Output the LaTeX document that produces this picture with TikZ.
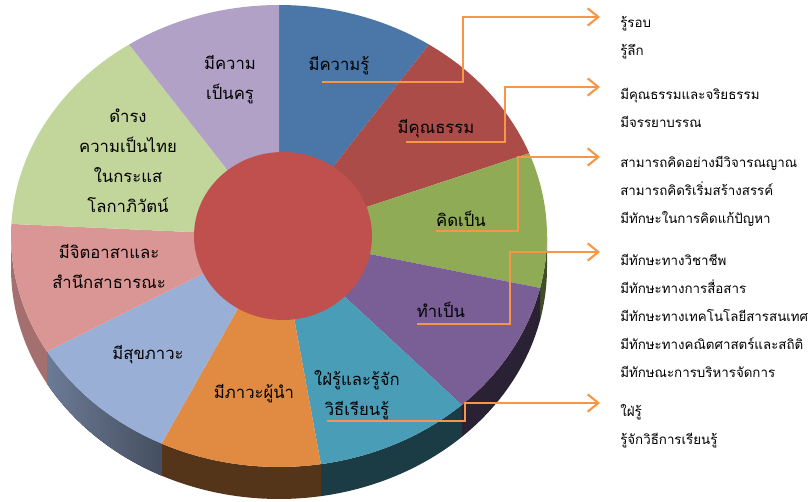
\documentclass[tikz,border=0pt]{standalone}
\usepackage{fontspec}
\newfontfamily\thaifont[Script=Thai]{Loma}
\usetikzlibrary{arrows.meta,shapes.geometric}

\definecolor{pblue}{HTML}{4A76A8}
\definecolor{pred}{HTML}{AB4C49}
\definecolor{pgreen}{HTML}{8FAB55}
\definecolor{ppurple}{HTML}{7A5F96}
\definecolor{pteal}{HTML}{4A9DB6}
\definecolor{porange}{HTML}{E08A42}
\definecolor{plblue}{HTML}{9AAFD6}
\definecolor{ppink}{HTML}{D99694}
\definecolor{plgreen}{HTML}{C2D59B}
\definecolor{plpurple}{HTML}{B1A1C7}
\definecolor{hubred}{HTML}{C0504D}
\definecolor{linkorange}{HTML}{F79646}

\tikzstyle{lbl} = [font=\thaifont\fontsize{12.5}{22.5}\selectfont, align=center, inner sep=0pt]
\tikzstyle{listtxt} = [font=\thaifont\fontsize{10}{21}\selectfont, align=left, anchor=west, inner sep=0pt]
\tikzstyle{conn} = [draw=linkorange, line width=2pt, -{Straight Barb[length=8pt,width=13pt,line width=1.6pt]}]

\begin{document}
\begin{tikzpicture}[x=0.75pt,y=-0.75pt]
\useasboundingbox (0,0) rectangle (811,502);
\begin{scope}[shift={(279,236)},yscale=-1]
	\fill[black!55!pgreen] plot[domain=-13:0,samples=20] ({268*cos(\x)},{231*sin(\x)})
		-- plot[domain=0:-13,samples=20] ({268*cos(\x)},{231*sin(\x)-32}) -- cycle;
	\fill[black!65!ppurple] plot[domain=-47:-13,samples=30] ({268*cos(\x)},{231*sin(\x)})
		-- plot[domain=-13:-47,samples=30] ({268*cos(\x)},{231*sin(\x)-32}) -- cycle;
	\fill[black!62!pteal] plot[domain=-81:-47,samples=30] ({268*cos(\x)},{231*sin(\x)})
		-- plot[domain=-47:-81,samples=30] ({268*cos(\x)},{231*sin(\x)-32}) -- cycle;
	\fill[black!62!porange] plot[domain=-116:-81,samples=30] ({268*cos(\x)},{231*sin(\x)})
		-- plot[domain=-81:-116,samples=30] ({268*cos(\x)},{231*sin(\x)-32}) -- cycle;
	\fill[left color=black!30!plblue,right color=black!55!plblue] plot[domain=-150:-116,samples=30] ({268*cos(\x)},{231*sin(\x)})
		-- plot[domain=-116:-150,samples=30] ({268*cos(\x)},{231*sin(\x)-32}) -- cycle;
	\fill[black!25!ppink] plot[domain=-180:-150,samples=30] ({268*cos(\x)},{231*sin(\x)})
		-- plot[domain=-150:-180,samples=30] ({268*cos(\x)},{231*sin(\x)-32}) -- cycle;
	% top of the pie
	\fill[pblue] (0,0) -- plot[domain=56:90,samples=30] ({268*cos(\x)},{231*sin(\x)}) -- cycle;
	\fill[pred] (0,0) -- plot[domain=21:56,samples=30] ({268*cos(\x)},{231*sin(\x)}) -- cycle;
	\fill[pgreen] (0,0) -- plot[domain=-13:21,samples=30] ({268*cos(\x)},{231*sin(\x)}) -- cycle;
	\fill[ppurple] (0,0) -- plot[domain=-47:-13,samples=30] ({268*cos(\x)},{231*sin(\x)}) -- cycle;
	\fill[pteal] (0,0) -- plot[domain=-81:-47,samples=30] ({268*cos(\x)},{231*sin(\x)}) -- cycle;
	\fill[porange] (0,0) -- plot[domain=-116:-81,samples=30] ({268*cos(\x)},{231*sin(\x)}) -- cycle;
	\fill[plblue] (0,0) -- plot[domain=-150:-116,samples=30] ({268*cos(\x)},{231*sin(\x)}) -- cycle;
	\fill[ppink] (0,0) -- plot[domain=-183:-150,samples=30] ({268*cos(\x)},{231*sin(\x)}) -- cycle;
	\fill[plgreen] (0,0) -- plot[domain=124:177,samples=40] ({268*cos(\x)},{231*sin(\x)}) -- cycle;
	\fill[plpurple] (0,0) -- plot[domain=90:124,samples=30] ({268*cos(\x)},{231*sin(\x)}) -- cycle;
\end{scope}
\node[ellipse,fill=hubred,minimum width=133.5pt,minimum height=126pt,inner sep=0pt] (hub) at (283,236) {};

\node[lbl] (know) at (339,66) {มีความรู้};
\node[lbl] (moral) at (436,129) {มีคุณธรรม};
\node[lbl] (think) at (461,219) {คิดเป็น};
\node[lbl] (doit) at (441,310) {ทำเป็น};
\node[lbl] (learn) at (357,395) {ใฝ่รู้และรู้จัก\\วิธีเรียนรู้};
\node[lbl] (lead) at (254,394) {มีภาวะผู้นำ};
\node[lbl] (health) at (148,355) {มีสุขภาวะ};
\node[lbl] (volunteer) at (109,266) {มีจิตอาสาและ\\สำนึกสาธารณะ};
\node[lbl] (thai) at (128,161) {ดำรง\\ความเป็นไทย\\ในกระแส\\โลกาภิวัตน์};
\node[lbl] (teacher) at (230,80) {มีความ\\เป็นครู};

\node[listtxt] (list1) at (620,38) {รู้รอบ\\รู้ลึก};
\node[listtxt] (list2) at (620,108) {มีคุณธรรมและจริยธรรม\\มีจรรยาบรรณ};
\node[listtxt] (list3) at (620,191) {สามารถคิดอย่างมีวิจารณญาณ\\สามารถคิดริเริ่มสร้างสรรค์\\มีทักษะในการคิดแก้ปัญหา};
\node[listtxt] (list4) at (620,316) {มีทักษะทางวิชาชีพ\\มีทักษะทางการสื่อสาร\\มีทักษะทางเทคโนโลยีสารสนเทศ\\มีทักษะทางคณิตศาสตร์และสถิติ\\มีทักษณะการบริหารจัดการ};
\node[listtxt] (list5) at (620,426) {ใฝ่รู้\\รู้จักวิธีการเรียนรู้};

\coordinate (s1) at (322,82);
\coordinate (s2) at (406,142);
\coordinate (s3) at (436,231);
\coordinate (s4) at (417,324);
\coordinate (s5) at (327,421);
\coordinate (t1) at (600,17);
\coordinate (t2) at (600,87);
\coordinate (t3) at (600,157);
\coordinate (t4) at (600,252);
\coordinate (t5) at (600,403);

\draw[conn] (s1) -| (463,17) -- (t1);
\draw[conn] (s2) -| (505,87) -- (t2);
\draw[conn] (s3) -| (518,157) -- (t3);
\draw[conn] (s4) -| (510,252) -- (t4);
\draw[conn] (s5) -| (465,403) -- (t5);
\end{tikzpicture}
\end{document}
